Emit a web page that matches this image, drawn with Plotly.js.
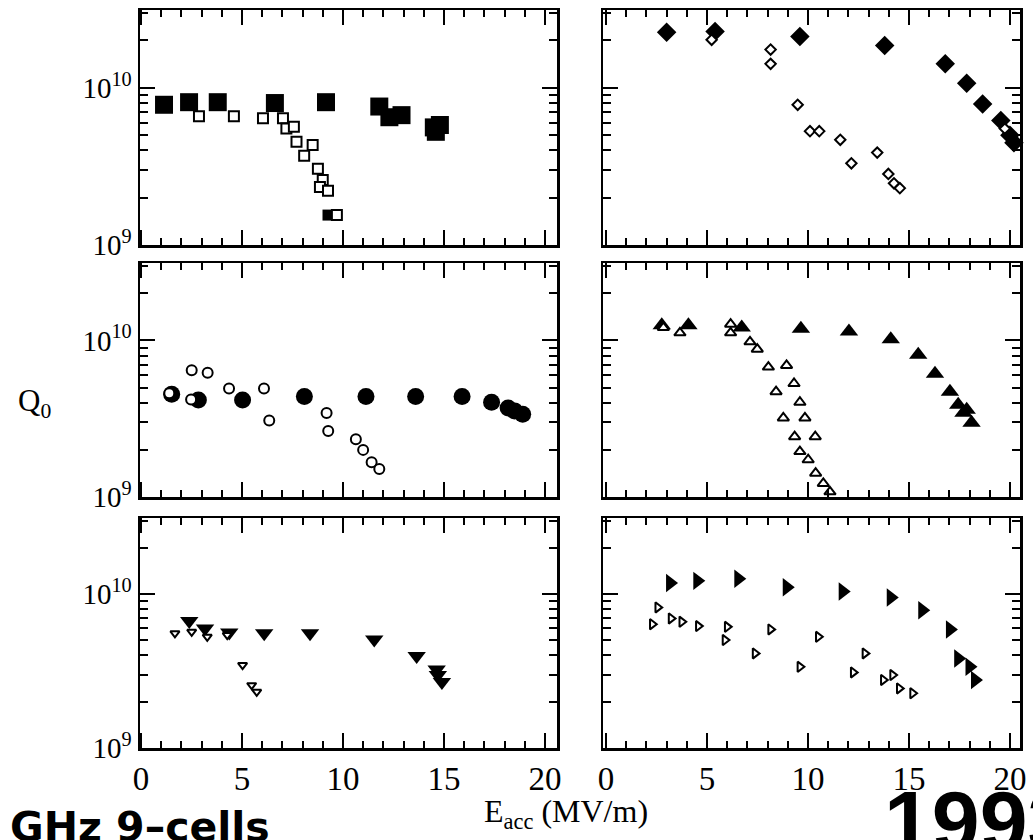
<!DOCTYPE html>
<html>
<head>
<meta charset="utf-8">
<script src="https://cdn.plot.ly/plotly-3.0.1.min.js"></script>
<style>html,body{margin:0;padding:0;background:#fff;}#chart{width:1033px;height:840px;}</style>
</head>
<body>
<div id="chart"></div>
<script>
// ---------- DATA (E_acc in MV/m, Q0) ----------
// Panel 1 (top-left): squares
const p1FilledE = [1.14, 2.38, 3.8, 6.63, 9.16, 11.8, 12.3, 12.9, 14.5, 14.8, 14.6];
const p1FilledQ = [7.8e9, 8.1e9, 8.1e9, 8.0e9, 8.1e9, 7.6e9, 6.5e9, 6.7e9, 5.6e9, 5.8e9, 5.25e9];
const p1SmallFilledE = [9.26];
const p1SmallFilledQ = [1.55e9];
const p1OpenE = [2.87, 4.6, 6.04, 7.03, 7.2, 7.57, 7.7, 8.5, 8.08, 8.76, 9.0, 8.86, 9.26, 9.7];
const p1OpenQ = [6.6e9, 6.6e9, 6.4e9, 6.4e9, 5.5e9, 5.65e9, 4.53e9, 4.33e9, 3.69e9, 3.05e9, 2.59e9, 2.34e9, 2.21e9, 1.55e9];

// Panel 2 (top-right): diamonds
const p2FilledE = [3.0, 5.4, 9.6, 13.8, 16.8, 17.86, 18.65, 19.55, 20.0, 20.2];
const p2FilledQ = [2.26e10, 2.28e10, 2.12e10, 1.86e10, 1.42e10, 1.07e10, 7.9e9, 6.2e9, 5.0e9, 4.47e9];
const p2OpenE = [5.23, 8.15, 8.15, 9.49, 10.1, 10.56, 11.6, 12.15, 13.43, 13.98, 14.26, 14.55, 19.75];
const p2OpenQ = [2.02e10, 1.75e10, 1.42e10, 7.8e9, 5.3e9, 5.3e9, 4.67e9, 3.31e9, 3.87e9, 2.83e9, 2.47e9, 2.3e9, 5.5e9];

// Panel 3 (middle-left): circles
const p3FilledE = [1.52, 2.84, 5.03, 8.09, 11.14, 13.6, 15.9, 17.36, 18.18, 18.5, 18.9];
const p3FilledQ = [4.53e9, 4.17e9, 4.17e9, 4.38e9, 4.38e9, 4.38e9, 4.38e9, 4.03e9, 3.7e9, 3.55e9, 3.38e9];
const p3OpenE = [1.4, 2.51, 3.3, 2.48, 4.36, 6.09, 6.35, 9.19, 9.27, 10.64, 11.0, 11.42, 11.8];
const p3OpenQ = [4.6e9, 6.45e9, 6.23e9, 4.2e9, 4.94e9, 4.94e9, 3.08e9, 3.44e9, 2.64e9, 2.34e9, 2.0e9, 1.67e9, 1.51e9];

// Panel 4 (middle-right): triangles up
const p4FilledE = [2.76, 4.08, 6.72, 9.65, 12.03, 14.1, 15.46, 16.29, 17.03, 17.44, 17.86, 17.7, 18.1];
const p4FilledQ = [1.25e10, 1.25e10, 1.21e10, 1.19e10, 1.14e10, 1.02e10, 8.1e9, 6.14e9, 4.71e9, 3.88e9, 3.61e9, 3.45e9, 2.98e9];
const p4OpenE = [2.84, 3.66, 6.17, 6.17, 7.13, 7.49, 8.04, 8.94, 9.31, 8.42, 9.6, 8.78, 9.85, 9.34, 10.36, 9.6, 10.01, 10.38, 10.76, 11.09];
const p4OpenQ = [1.21e10, 1.12e10, 1.27e10, 1.12e10, 9.8e9, 8.8e9, 6.76e9, 6.93e9, 5.31e9, 4.71e9, 4.03e9, 3.2e9, 3.2e9, 2.43e9, 2.43e9, 1.95e9, 1.73e9, 1.42e9, 1.22e9, 1.08e9];

// Panel 5 (bottom-left): triangles down
const p5FilledE = [2.39, 3.17, 4.37, 6.1, 8.37, 11.55, 13.65, 14.64, 14.7, 14.9];
const p5FilledQ = [6.7e9, 5.98e9, 5.64e9, 5.56e9, 5.56e9, 5.08e9, 3.96e9, 3.24e9, 2.98e9, 2.69e9];
const p5OpenE = [1.68, 2.51, 3.28, 4.27, 5.03, 5.48, 5.73];
const p5OpenQ = [5.56e9, 5.69e9, 5.28e9, 5.42e9, 3.46e9, 2.56e9, 2.32e9];

// Panel 6 (bottom-right): triangles right
const p6FilledE = [3.17, 4.52, 6.55, 8.95, 11.72, 14.1, 15.66, 17.03, 17.44, 18.0, 18.27];
const p6FilledQ = [1.18e10, 1.22e10, 1.26e10, 1.11e10, 1.04e10, 9.5e9, 7.87e9, 5.9e9, 3.82e9, 3.37e9, 2.77e9];
const p6OpenE = [2.56, 2.29, 3.22, 3.75, 4.57, 6.0, 5.89, 8.15, 7.38, 10.51, 9.6, 12.82, 12.24, 13.73, 14.19, 14.52, 15.18];
const p6OpenQ = [8.2e9, 6.38e9, 6.95e9, 6.61e9, 6.2e9, 6.13e9, 5.03e9, 5.9e9, 4.12e9, 5.28e9, 3.37e9, 4.12e9, 3.1e9, 2.77e9, 2.98e9, 2.44e9, 2.27e9];

const yTickVals = [1e9, 1e10];
const yTickText = ['10<sup>9</sup>', '10<sup>10</sup>'];
const yMinorVals = [2e9, 3e9, 4e9, 5e9, 6e9, 7e9, 8e9, 9e9, 2e10, 3e10];
const xTickVals = [0, 5, 10, 15, 20];
const xTickText = ['0', '5', '10', '15', '20'];

// ---------- TRACES ----------
function filled(x, y, sym, size, ax) {
  return {x: x, y: y, type: 'scatter', mode: 'markers', xaxis: ax[0], yaxis: ax[1], cliponaxis: false,
    marker: {symbol: sym, size: size, color: '#000', line: {width: 0}}, showlegend: false, hoverinfo: 'x+y'};
}
function open(x, y, sym, size, ax) {
  return {x: x, y: y, type: 'scatter', mode: 'markers', xaxis: ax[0], yaxis: ax[1], cliponaxis: false,
    marker: {symbol: sym, size: size, color: '#fff', line: {width: 2, color: '#000'}}, showlegend: false, hoverinfo: 'x+y'};
}
const A = [['x', 'y'], ['x2', 'y2'], ['x3', 'y3'], ['x4', 'y4'], ['x5', 'y5'], ['x6', 'y6']];
const data = [
  filled(p1FilledE, p1FilledQ, 'square', 18, A[0]),
  filled(p1SmallFilledE, p1SmallFilledQ, 'square', 11, A[0]),
  open(p1OpenE, p1OpenQ, 'square', 10, A[0]),
  filled(p2FilledE, p2FilledQ, 'diamond', 15, A[1]),
  open(p2OpenE, p2OpenQ, 'diamond', 8, A[1]),
  filled(p3FilledE, p3FilledQ, 'circle', 17, A[2]),
  open(p3OpenE, p3OpenQ, 'circle', 10, A[2]),
  filled(p4FilledE, p4FilledQ, 'triangle-up', 16, A[3]),
  open(p4OpenE, p4OpenQ, 'triangle-up', 10, A[3]),
  filled(p5FilledE, p5FilledQ, 'triangle-down', 16, A[4]),
  open(p5OpenE, p5OpenQ, 'triangle-down', 8, A[4]),
  filled(p6FilledE, p6FilledQ, 'triangle-right', 16, A[5]),
  open(p6OpenE, p6OpenQ, 'triangle-right', 9, A[5])
];

// ---------- LAYOUT ----------
const W = 1033, H = 840;
const colPx = [[140, 557], [603, 1020]];
const rowPx = [[10, 245], [263, 497], [518, 748]];
const xRanges = [[-0.05, 20.6], [-0.15, 20.5]];
const serif = 'Liberation Serif, Times New Roman, serif';

function xaxisDef(col, row) {
  return {
    domain: [colPx[col][0] / W, colPx[col][1] / W],
    anchor: 'y' + (row * 2 + col === 0 ? '' : row * 2 + col + 1),
    range: xRanges[col], type: 'linear',
    showline: true, linecolor: '#000', linewidth: 2.5, mirror: 'allticks',
    ticks: 'inside', ticklen: 15, tickwidth: 2, tickcolor: '#000',
    tickmode: 'array', tickvals: xTickVals, ticktext: xTickText,
    showticklabels: row === 2,
    tickfont: {family: serif, size: 33, color: '#000'},
    showgrid: false, zeroline: false,
    minor: {tickmode: 'linear', tick0: 0, dtick: 1, ticks: 'inside', ticklen: 7, tickwidth: 2, tickcolor: '#000', showgrid: false}
  };
}
function yaxisDef(col, row) {
  return {
    domain: [1 - rowPx[row][1] / H, 1 - rowPx[row][0] / H],
    anchor: 'x' + (row * 2 + col === 0 ? '' : row * 2 + col + 1),
    type: 'log', range: [9, 10.495],
    showline: true, linecolor: '#000', linewidth: 2.5, mirror: 'allticks',
    ticks: 'inside', ticklen: 15, tickwidth: 2, tickcolor: '#000',
    tickmode: 'array', tickvals: yTickVals, ticktext: yTickText,
    showticklabels: col === 0,
    tickfont: {family: serif, size: 29, color: '#000'},
    showgrid: false, zeroline: false,
    minor: {tickmode: 'array', tickvals: yMinorVals, ticks: 'inside', ticklen: 8, tickwidth: 2, tickcolor: '#000', showgrid: false}
  };
}

const layout = {
  width: W, height: H,
  margin: {l: 0, r: 0, t: 0, b: 0},
  paper_bgcolor: '#fff', plot_bgcolor: '#fff',
  showlegend: false,
  annotations: [
    {text: 'Q<sub>0</sub>', xref: 'paper', yref: 'paper', x: 34 / W, y: 1 - 403 / H, xanchor: 'center', yanchor: 'middle',
      showarrow: false, font: {family: serif, size: 31, color: '#000'}},
    {text: 'E<sub>acc</sub> (MV/m)', xref: 'paper', yref: 'paper', x: 566 / W, y: 1 - 813 / H, xanchor: 'center', yanchor: 'middle',
      showarrow: false, font: {family: serif, size: 32, color: '#000'}},
    {text: '<b>GHz 9–cells</b>', xref: 'paper', yref: 'paper', x: 8 / W, y: 1 - 801 / H, xanchor: 'left', yanchor: 'top',
      showarrow: false, font: {family: 'DejaVu Sans, sans-serif', size: 41, color: '#000'}},
    {text: '<b>1993</b>', xref: 'paper', yref: 'paper', x: 882 / W, y: 1 - 771 / H, xanchor: 'left', yanchor: 'top',
      showarrow: false, font: {family: 'Liberation Sans, Arial, sans-serif', size: 86, color: '#000'}}
  ]
};
for (let r = 0; r < 3; r++) {
  for (let c = 0; c < 2; c++) {
    const n = r * 2 + c + 1;
    const s = n === 1 ? '' : String(n);
    layout['xaxis' + s] = xaxisDef(c, r);
    layout['yaxis' + s] = yaxisDef(c, r);
  }
}

Plotly.newPlot('chart', data, layout, {staticPlot: true, displayModeBar: false});
</script>
</body>
</html>
